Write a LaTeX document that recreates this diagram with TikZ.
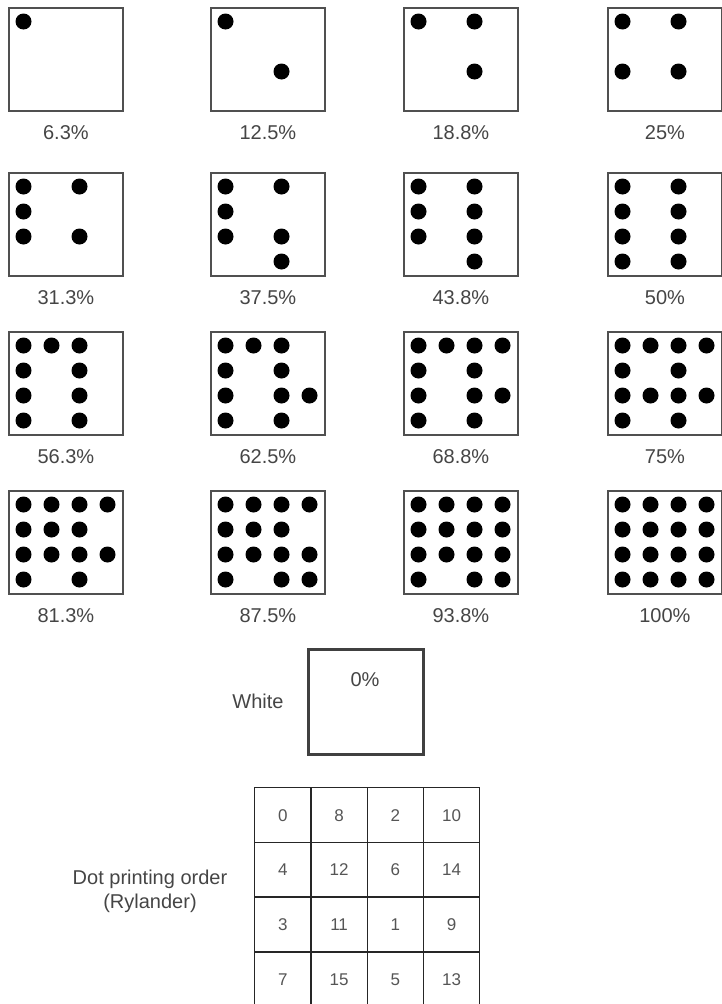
\documentclass[tikz,border=0pt]{standalone}
\usepackage{fontspec}
\setmainfont{Liberation Sans}
\usetikzlibrary{calc}
\definecolor{txt}{HTML}{454545}
\definecolor{numtxt}{HTML}{555555}
\definecolor{frame}{HTML}{505050}
\begin{document}
\begin{tikzpicture}[x=1pt,y=-1pt,
  cellbox/.style={draw=frame,line width=1.8pt,fill=white,inner sep=0pt,
    minimum width=114pt,minimum height=103pt,anchor=north west},
  whitebox/.style={draw=frame!80!black,line width=2.6pt,fill=white,inner sep=0pt,
    minimum width=115pt,minimum height=105pt,anchor=north west},
  pct/.style={text=txt,font=\fontsize{20}{22}\selectfont,inner sep=0pt},
  tcell/.style={draw=black!85,line width=1.4pt,inner sep=0pt,
    minimum width=56.25pt,minimum height=54.7pt,anchor=north west,
    text height=12pt,text depth=0pt,
    text=numtxt,font=\fontsize{17}{19}\selectfont},
  dotfill/.style={fill=black}]
\useasboundingbox (0,0) rectangle (721,1004);
% 16 halftone cells
\foreach \lab [count=\n from 1] in {6.3\%,12.5\%,18.8\%,25\%,31.3\%,37.5\%,43.8\%,50\%,56.3\%,62.5\%,68.8\%,75\%,81.3\%,87.5\%,93.8\%,100\%}{
  \pgfmathtruncatemacro\col{mod(\n-1,4)}
  \pgfmathtruncatemacro\row{int((\n-1)/4)}
  \pgfmathsetmacro\bx{{8,210,403,607}[\col]}
  \pgfmathsetmacro\by{{7,172,331,490}[\row]}
  \node[cellbox] (box\n) at (\bx,\by) {};
  \foreach \r in {0,1,2,3}{
    \foreach \c in {0,1,2,3}{
      \pgfmathtruncatemacro\ord{{0,8,2,10,4,12,6,14,3,11,1,9,7,15,5,13}[4*\r+\c]}
      \ifnum\ord<\n
        \fill[dotfill] ($(box\n.north west)+(15.5+28*\c,14.5+25*\r)$) circle (8pt);
      \fi
    }
  }
  \node[pct] (lab\n) at ($(box\n.south)+(0,21)$) {\lab};
}
% white
\node[whitebox] (white) at (307,648) {};
\node[pct] (zero) at (365,680) {0\%};
\node[pct] (whitelab) at (258,701) {White};
% dot printing order table
\foreach \v [count=\k from 0] in {0,8,2,10,4,12,6,14,3,11,1,9,7,15,5,13}{
  \pgfmathtruncatemacro\rr{int(\k/4)}
  \pgfmathtruncatemacro\cc{mod(\k,4)}
  \node[tcell] (t\k) at (254+56.25*\cc,787+54.7*\rr) {\v};
}
\node[pct,align=center] (order) at (150,891) {Dot printing order\\[2pt](Rylander)};
\end{tikzpicture}
\end{document}
